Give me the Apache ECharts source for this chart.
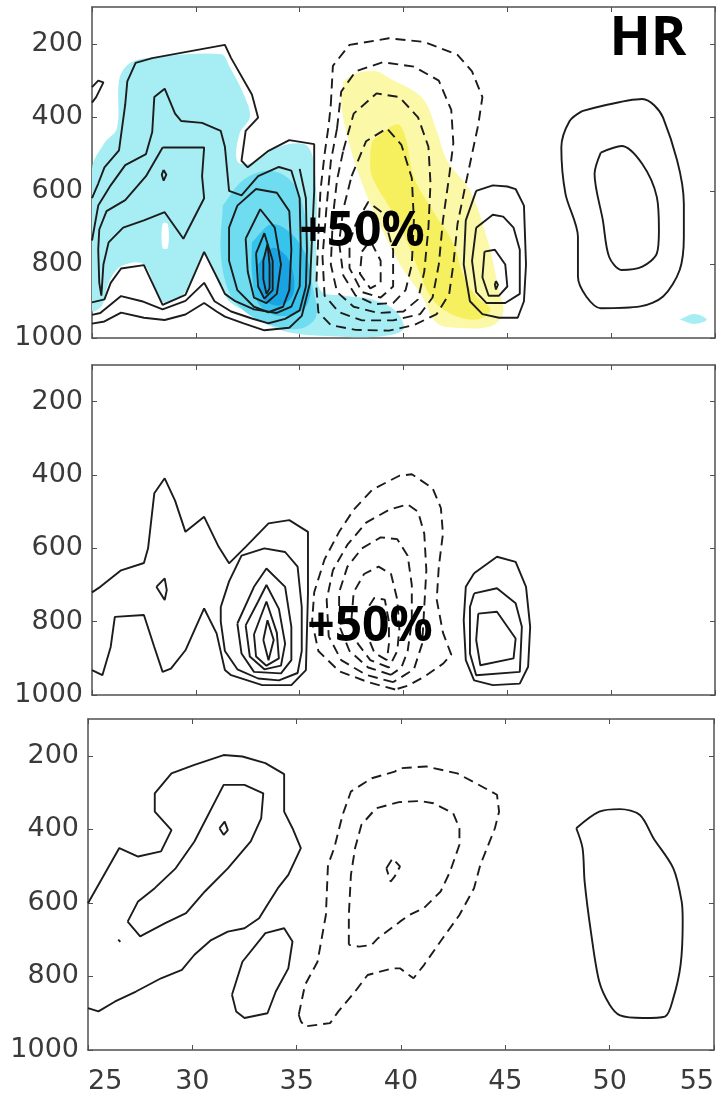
<!DOCTYPE html>
<html>
<head>
<meta charset="utf-8">
<script src="https://cdn.jsdelivr.net/npm/echarts@6/dist/echarts.min.js"></script>
<style>
html, body { margin: 0; padding: 0; background: #fff; }
#chart { width: 726px; height: 1101px; }
</style>
</head>
<body>
<div id="chart"></div>
<script>
// axes
var xTicks = [25, 30, 35, 40, 45, 50, 55];
var pTicks = [200, 400, 600, 800, 1000];

// ---- panel 1 : solid contours (x = latitude, p = hPa)
var p1Outer = [[25.0,620],[25.3,580],[25.6,536],[26.3,490],[26.6,365],[26.7,302],[27.1,252],[27.9,239],[31.4,203],[31.7,239],[32.7,338],[33.0,401],[32.4,437],[32.2,518],[32.5,536],[33.5,491],[34.5,462],[35.7,473],[35.7,600],[35.6,720],[35.5,850],[35.1,940],[34.5,972],[33.3,979],[32.3,960],[31.4,942],[31.0,928],[30.4,905],[29.5,936],[28.5,951],[27.5,945],[26.4,931],[25.6,955],[25.0,961]];
var p1Lower = [[35.0,540],[35.3,620],[35.35,760],[35.3,860],[35.0,925],[34.3,948],[33.5,960],[32.7,947],[31.7,928],[30.9,900],[30.4,850],[29.5,899],[28.4,922],[27.4,900],[26.4,886],[25.4,932],[25.0,937]];
var p1Second = [[25.0,735],[25.3,640],[25.9,585],[26.6,530],[27.6,500],[27.9,440],[28.0,345],[28.5,322],[29.0,390],[29.3,410],[30.3,415],[31.2,437],[31.4,480],[31.6,600],[32.2,612],[33.0,560],[34.0,535],[34.6,545],[35.0,620],[35.05,750],[35.0,860],[34.6,915],[33.9,932],[32.8,922],[31.9,900],[31.4,880],[31.2,856],[30.4,766],[29.5,883],[28.4,910],[27.5,802],[26.4,811],[25.9,850],[25.6,895],[25.0,903]];
var p1Lobe = [[28.4,482],[30.4,482],[30.3,560],[30.4,620],[29.4,730],[28.5,658],[27.5,680],[26.5,700],[25.8,740],[25.55,800],[25.45,885],[25.35,850],[25.3,760],[25.35,705],[25.7,655],[26.6,625],[27.6,560],[28.4,482]];
var p1Dot = [[28.45,543],[28.58,556],[28.45,572],[28.36,556],[28.45,543]];
var p1Hook = [[25.0,318],[25.3,300],[25.55,305],[25.2,345],[25.0,360]];
var p1Ring3 = [[32.0,640],[32.9,595],[33.9,605],[34.5,655],[34.6,760],[34.5,870],[34.2,915],[33.5,930],[32.8,915],[32.0,870],[31.6,790],[31.6,700],[32.0,640]];
var p1Ring4 = [[32.4,730],[33.1,650],[33.8,700],[34.1,800],[33.9,880],[33.4,905],[32.8,890],[32.5,820],[32.4,730]];
var p1Ring5 = [[32.9,770],[33.3,715],[33.7,790],[33.7,870],[33.3,893],[33.0,860],[32.9,770]];
var p1Ring6 = [[33.25,790],[33.45,745],[33.55,800],[33.55,865],[33.4,880],[33.25,840],[33.25,790]];
var p1East1 = [[43.5,600],[44.3,585],[45.0,588],[45.4,595],[45.8,640],[45.9,800],[45.8,900],[45.5,945],[44.6,945],[43.8,935],[43.2,900],[42.9,800],[43.0,680],[43.5,600]];
var p1East2 = [[43.5,700],[44.3,665],[44.8,670],[45.3,700],[45.6,760],[45.6,880],[44.9,905],[44.0,905],[43.5,875],[43.3,790],[43.5,700]];
var p1East3 = [[43.9,765],[44.4,760],[44.9,800],[45.0,860],[44.6,885],[44.1,885],[43.8,835],[43.9,765]];
var p1East4 = [[44.45,845],[44.55,855],[44.45,868],[44.4,855],[44.45,845]];
var p1Far1 = [[48.6,383],[51.5,350],[52.5,401],[53.5,635],[53.5,725],[53.3,815],[52.5,887],[51.4,914],[49.5,919],[48.8,887],[48.4,833],[48.4,725],[47.8,608],[47.6,482],[48.0,410],[48.6,383]];
var p1Far2 = [[49.5,496],[50.5,478],[51.5,527],[52.2,617],[52.3,707],[52.2,770],[51.5,806],[50.5,815],[49.9,779],[49.6,680],[49.2,554],[49.5,496]];

// ---- panel 1 : dashed (negative) contours
var p1Neg1 = [[36.5,365],[36.6,260],[37.4,203],[39.3,185],[41.0,195],[42.6,230],[43.3,275],[43.8,345],[43.6,420],[43.3,500],[43.0,580],[42.6,690],[42.4,800],[42.2,880],[41.6,935],[40.5,965],[39.3,980],[37.7,978],[36.5,965],[35.9,930],[35.8,860],[35.9,720],[36.0,600],[36.2,500],[36.4,420],[36.5,365]];
var p1Neg2 = [[36.8,430],[37.0,330],[37.7,275],[39.0,250],[40.5,262],[41.7,300],[42.3,380],[42.4,470],[42.2,560],[41.9,680],[41.7,800],[41.4,890],[40.8,935],[39.5,952],[38.0,952],[36.9,930],[36.2,885],[36.1,780],[36.3,640],[36.5,520],[36.8,430]];
var p1Neg3 = [[37.1,490],[37.6,390],[38.7,335],[39.8,345],[40.7,400],[41.2,480],[41.3,580],[41.2,700],[41.0,820],[40.7,895],[40.0,928],[38.8,932],[37.6,915],[36.8,875],[36.5,800],[36.6,670],[36.8,570],[37.1,490]];
var p1Neg4 = [[37.5,560],[38.2,465],[39.2,430],[39.9,475],[40.4,565],[40.5,680],[40.4,800],[40.1,870],[39.5,905],[38.6,908],[37.7,885],[37.1,830],[36.9,740],[37.1,650],[37.5,560]];
var p1Neg5 = [[37.7,690],[38.3,630],[39.0,660],[39.5,760],[39.5,860],[38.9,890],[38.0,875],[37.4,810],[37.4,740],[37.7,690]];
var p1Neg6 = [[38.0,765],[38.4,735],[38.9,790],[38.9,850],[38.4,865],[37.9,825],[38.0,765]];

// ---- panel 1 : shading
var p1CyanLight = [[25.0,540],[25.6,470],[26.2,430],[26.3,300],[26.7,258],[27.5,240],[31.2,228],[31.6,260],[32.4,350],[32.6,400],[32.1,445],[32.0,520],[32.7,525],[34.0,480],[35.4,480],[35.8,600],[35.8,760],[36.0,870],[37.2,885],[38.5,895],[39.6,925],[40.0,975],[39.0,995],[36.5,995],[34.5,985],[33.4,962],[32.7,935],[31.7,905],[31.2,862],[30.4,775],[29.5,875],[28.4,902],[27.5,800],[26.4,805],[25.8,850],[25.5,910],[25.0,925]];
var p1CyanGap = [[28.4,690],[28.65,690],[28.65,755],[28.4,755]];
var p1CyanMid = [[31.3,640],[32.3,570],[33.6,545],[34.7,580],[35.3,680],[35.6,850],[35.8,940],[35.0,975],[33.5,962],[32.4,930],[31.6,875],[31.2,770],[31.3,640]];
var p1CyanDeep = [[32.7,740],[33.7,690],[34.9,735],[35.5,820],[35.3,915],[34.0,940],[33.0,905],[32.7,820],[32.7,740]];
var p1CyanCore = [[33.0,800],[33.7,755],[34.5,790],[34.7,880],[34.0,912],[33.2,890],[33.0,800]];
var p1CyanSpeck = [[53.3,950],[54.0,935],[54.6,950],[54.0,962],[53.3,950]];
var p1YellowLight = [[37.1,302],[37.7,280],[38.7,275],[39.3,293],[40.9,347],[41.6,437],[42.1,518],[43.2,599],[44.0,725],[44.6,869],[44.8,932],[44.2,968],[42.6,972],[41.6,959],[40.9,887],[39.8,797],[38.4,635],[37.9,563],[37.4,473],[37.0,365],[37.1,302]];
var p1YellowStrong = [[38.5,464],[39.7,419],[40.1,455],[40.5,563],[41.4,653],[42.4,743],[42.9,833],[43.5,887],[44.2,923],[43.5,950],[42.2,932],[41.3,887],[40.6,797],[39.7,680],[38.5,563],[38.4,500],[38.5,464]];

// ---- panel 2
var p2Outer = [[25.0,720],[25.4,705],[26.4,660],[27.5,640],[27.7,600],[28.0,450],[28.5,409],[29.0,470],[29.5,555],[30.4,514],[31.1,596],[31.6,641],[32.4,596],[33.5,532],[34.5,523],[35.4,555],[35.4,723],[35.3,932],[34.6,973],[33.2,973],[31.7,946],[31.4,932],[31.0,832],[30.4,764],[29.5,878],[28.8,928],[28.4,937],[28.0,869],[27.5,782],[26.1,787],[25.9,869],[25.5,946],[25.0,932]];
var p2Diamond = [[28.1,705],[28.5,682],[28.6,714],[28.5,741],[28.1,705]];
var p2Ring1 = [[31.2,760],[31.6,690],[32.2,620],[33.3,600],[34.3,610],[34.9,650],[35.1,760],[35.1,880],[34.9,940],[34.0,960],[33.0,955],[32.0,930],[31.4,880],[31.2,800],[31.2,760]];
var p2Ring2 = [[32.0,805],[32.8,705],[33.4,655],[34.3,705],[34.6,814],[34.6,905],[34.1,941],[32.8,937],[32.2,887],[32.0,805]];
var p2Ring3 = [[32.4,810],[33.0,745],[33.4,700],[34.0,765],[34.3,860],[34.1,920],[33.3,930],[32.6,895],[32.4,810]];
var p2Ring4 = [[32.8,835],[33.4,745],[33.9,830],[34.0,900],[33.4,920],[32.9,895],[32.8,835]];
var p2Ring5 = [[33.25,850],[33.45,796],[33.75,850],[33.5,905],[33.25,850]];
var p2East1 = [[43.4,668],[44.5,623],[45.4,637],[45.9,705],[46.1,814],[46.0,923],[45.6,969],[44.3,973],[43.4,960],[43.0,905],[42.9,796],[43.0,705],[43.4,668]];
var p2East2 = [[43.4,723],[44.5,709],[45.4,750],[45.7,814],[45.6,937],[43.5,946],[43.2,887],[43.2,760],[43.4,723]];
var p2East3 = [[43.6,778],[44.5,773],[45.4,846],[45.3,900],[43.7,919],[43.5,850],[43.6,778]];
var p2Neg1 = [[39.6,985],[38.3,965],[36.9,935],[35.9,880],[35.6,800],[35.7,720],[36.2,630],[36.9,555],[37.6,495],[38.5,440],[39.8,402],[40.4,398],[41.4,436],[41.8,490],[41.9,560],[41.7,650],[41.6,740],[41.9,830],[42.3,890],[41.9,915],[41.0,950],[40.2,975],[39.6,985]];
var p2Neg2 = [[39.5,965],[38.2,945],[37.0,905],[36.4,840],[36.3,740],[36.6,660],[37.3,590],[38.2,530],[39.3,495],[40.2,480],[40.7,500],[41.0,560],[41.1,660],[41.0,760],[40.9,860],[40.5,930],[39.5,965]];
var p2Neg3 = [[39.4,945],[38.3,925],[37.4,880],[36.9,810],[36.9,720],[37.3,650],[38.0,600],[38.9,570],[39.7,575],[40.2,620],[40.4,700],[40.4,800],[40.2,880],[39.9,925],[39.4,945]];
var p2Neg4 = [[39.3,925],[38.4,905],[37.8,860],[37.5,790],[37.6,720],[38.1,670],[38.8,650],[39.4,670],[39.7,740],[39.8,820],[39.7,880],[39.3,925]];
var p2Neg5 = [[39.2,905],[38.6,885],[38.2,830],[38.2,770],[38.6,735],[39.1,740],[39.3,800],[39.3,860],[39.2,905]];

// ---- panel 3
var p3Outer = [[25.0,601],[26.5,451],[27.4,474],[28.5,460],[29.0,402],[28.2,352],[28.2,302],[29.0,248],[30.1,225],[31.5,198],[32.4,202],[33.5,220],[34.4,250],[34.4,352],[34.8,397],[35.2,451],[34.6,524],[34.1,560],[33.6,605],[33.2,642],[32.5,669],[31.7,678],[30.9,701],[30.1,741],[29.5,782],[28.5,805],[27.3,841],[26.3,868],[25.5,895],[25.0,886]];
var p3Inner = [[26.9,651],[27.4,596],[28.2,560],[29.2,506],[30.1,433],[31.5,279],[32.5,279],[33.4,302],[33.3,370],[32.8,433],[31.7,506],[30.6,569],[29.7,628],[28.7,655],[27.5,691],[26.9,651]];
var p3Diamond = [[31.3,397],[31.55,379],[31.7,402],[31.5,415],[31.3,397]];
var p3Dot = [[26.45,700],[26.55,706]];
var p3Small = [[31.9,850],[32.4,760],[33.5,682],[34.4,669],[34.8,705],[34.6,778],[34.0,841],[33.6,900],[32.5,913],[32.1,895],[31.9,850]];
var p3Far = [[48.4,397],[49.5,352],[50.5,345],[51.45,361],[52.1,424],[53.05,506],[53.45,596],[53.5,651],[53.4,768],[53.05,859],[52.65,909],[51.6,913],[50.5,906],[50.0,877],[49.5,814],[49.1,678],[48.8,542],[48.7,451],[48.4,397]];
var p3Neg1 = [[35.1,904],[35.4,823],[36.0,760],[36.4,633],[36.5,497],[36.8,451],[37.2,361],[37.6,297],[38.6,261],[39.7,243],[39.95,234],[41.2,229],[42.7,248],[43.6,275],[44.6,306],[44.7,352],[44.5,397],[43.8,497],[43.5,560],[42.8,633],[42.0,696],[41.1,769],[40.6,805],[39.95,778],[39.6,778],[38.4,796],[37.8,841],[37.0,895],[36.6,927],[35.4,936],[35.2,922],[35.1,904]];
var p3Neg2 = [[37.5,714],[37.5,633],[37.6,524],[37.8,451],[38.1,388],[38.8,343],[39.9,326],[40.9,323],[41.55,329],[42.5,356],[42.8,397],[42.8,442],[42.35,515],[41.9,569],[41.1,614],[40.4,633],[39.95,651],[38.9,696],[38.6,714],[38.0,719],[37.5,714]];
var p3Neg3 = [[39.3,506],[39.6,479],[39.95,501],[39.7,528],[39.5,542],[39.3,506]];

var chart = echarts.init(document.getElementById('chart'));

var grids = [
	{ left: 92, right: 11, top: 7, height: 331 },
	{ left: 92, right: 11, top: 365, height: 330 },
	{ left: 88, right: 12, top: 719, height: 331 }
];

var frame = { show: true, lineStyle: { color: '#505050', width: 1.5 } };
var tick = { show: true, inside: true, length: 5, lineStyle: { color: '#505050' } };
var xAxes = [], yAxes = [];
grids.forEach(function (g, i) {
	xAxes.push({
		gridIndex: i, type: 'value', position: 'bottom', min: 25, max: 55, interval: 5,
		axisLine: frame, splitLine: { show: false }, axisTick: tick,
		axisLabel: {
			show: i == 2, margin: 18, color: '#3a3a3a', fontSize: 27, fontFamily: 'DejaVu Sans',
			alignMinLabel: 'left', alignMaxLabel: 'right',
			formatter: function (v) { return String(v); }
		}
	});
	xAxes.push({
		gridIndex: i, type: 'value', position: 'top', min: 25, max: 55, interval: 5,
		axisLine: frame, splitLine: { show: false }, axisTick: tick,
		axisLabel: { show: false }
	});
	yAxes.push({
		gridIndex: i, type: 'value', position: 'left', inverse: true, min: 100, max: 1000, interval: 100,
		axisLine: frame, splitLine: { show: false },
		axisTick: { show: true, inside: true, length: 5, customValues: pTicks, lineStyle: { color: '#505050' } },
		axisLabel: {
			margin: 9, color: '#3a3a3a', fontSize: 27, fontFamily: 'DejaVu Sans', customValues: pTicks,
			formatter: function (v) { return String(v); }
		}
	});
	yAxes.push({
		gridIndex: i, type: 'value', position: 'right', inverse: true, min: 100, max: 1000, interval: 100,
		axisLine: frame, splitLine: { show: false },
		axisTick: { show: true, inside: true, length: 5, customValues: pTicks, lineStyle: { color: '#505050' } },
		axisLabel: { show: false }
	});
});

var series = [];

// filled shading polygon
function shade(points, gi, color, z) {
	series.push({
		type: 'custom', xAxisIndex: gi * 2, yAxisIndex: gi * 2, z: z, silent: true, clip: true,
		data: [points[0]],
		renderItem: function (params, api) {
			return {
				type: 'polygon',
				shape: { points: points.map(function (p) { return api.coord(p); }), smooth: 0.35 },
				style: { fill: color }
			};
		}
	});
}

// contour polyline
function contour(points, gi, dashed, smooth) {
	series.push({
		type: 'line', xAxisIndex: gi * 2, yAxisIndex: gi * 2, z: 5, silent: true, clip: true,
		data: points, showSymbol: false, symbol: 'none', smooth: smooth || false,
		lineStyle: { color: '#1c1c1c', width: 1.9, type: dashed ? [10, 6] : 'solid' }
	});
}

shade(p1CyanLight, 0, '#a6eef4', 1);
shade(p1CyanGap, 0, '#ffffff', 1);
shade(p1CyanMid, 0, '#6fdcef', 2);
shade(p1CyanDeep, 0, '#36c3ec', 3);
shade(p1CyanCore, 0, '#1aa3e2', 4);
shade(p1CyanSpeck, 0, '#a6eef4', 1);
shade(p1YellowLight, 0, '#fbf8a8', 1);
shade(p1YellowStrong, 0, '#f6f05e', 2);

[p1Outer, p1Lower, p1Second, p1Lobe, p1Dot, p1Hook, p1Ring3, p1Ring4, p1Ring5, p1Ring6,
 p1East1, p1East2, p1East3, p1East4].forEach(function (c) { contour(c, 0, false); });
contour(p1Far1, 0, false, 0.3);
contour(p1Far2, 0, false, 0.3);
[p1Neg1, p1Neg2, p1Neg3, p1Neg4, p1Neg5, p1Neg6].forEach(function (c) { contour(c, 0, true); });

[p2Outer, p2Diamond, p2Ring1, p2Ring2, p2Ring3, p2Ring4, p2Ring5,
 p2East1, p2East2, p2East3].forEach(function (c) { contour(c, 1, false); });
[p2Neg1, p2Neg2, p2Neg3, p2Neg4, p2Neg5].forEach(function (c) { contour(c, 1, true); });

[p3Outer, p3Inner, p3Diamond, p3Dot, p3Small].forEach(function (c) { contour(c, 2, false); });
contour(p3Far, 2, false, 0.3);
[p3Neg1, p3Neg2, p3Neg3].forEach(function (c) { contour(c, 2, true); });

var bold = 'bold 48px "Open Sans", "Liberation Sans", sans-serif';

option = {
	animation: false,
	backgroundColor: '#ffffff',
	grid: grids,
	xAxis: xAxes,
	yAxis: yAxes,
	series: series,
	graphic: [
		{ type: 'text', x: 362, y: 232, z: 100, style: { text: '+50%', font: bold, fill: '#000', align: 'center', verticalAlign: 'middle' } },
		{ type: 'text', x: 370, y: 627, z: 100, style: { text: '+50%', font: bold, fill: '#000', align: 'center', verticalAlign: 'middle' } },
		{ type: 'text', x: 648, y: 40, z: 100, style: { text: 'HR', font: 'bold 54px "Open Sans", "Liberation Sans", sans-serif', fill: '#000', align: 'center', verticalAlign: 'middle' } }
	]
};

chart.setOption(option);
</script>
</body>
</html>
